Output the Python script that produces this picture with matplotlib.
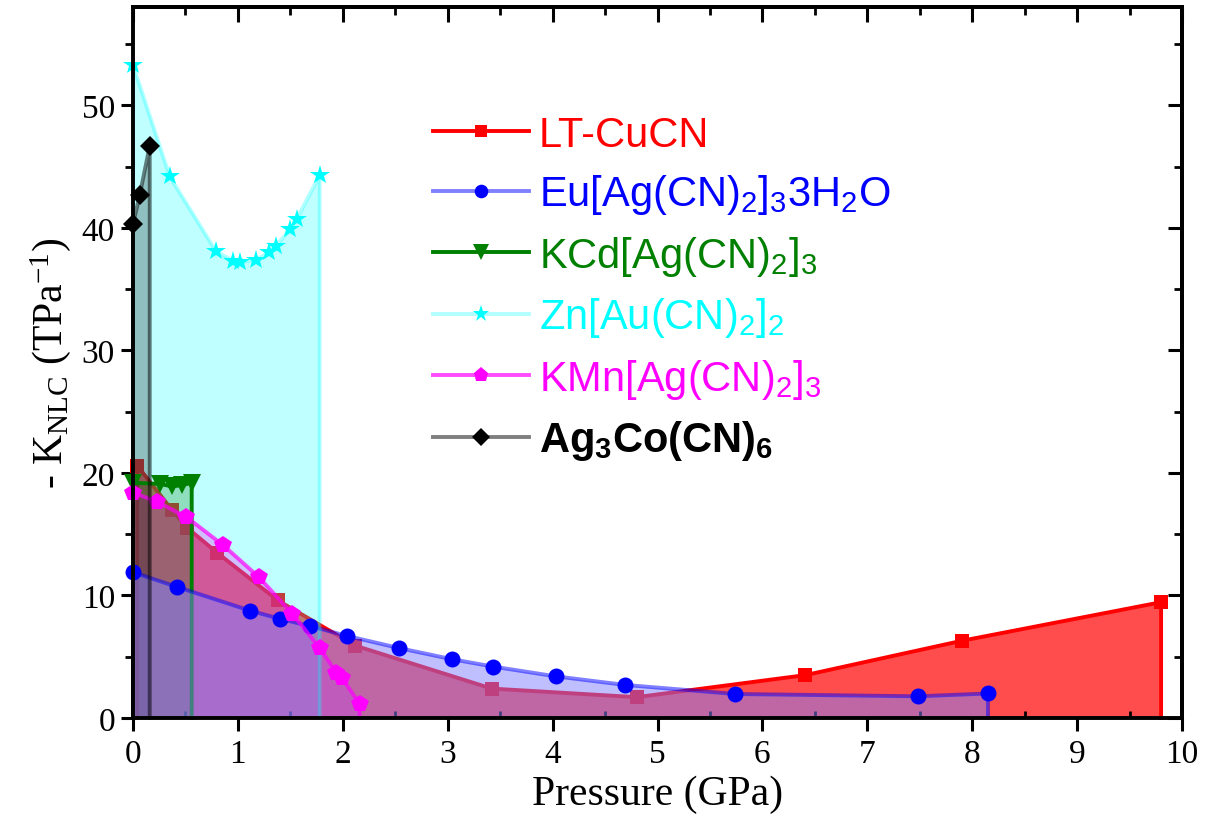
import matplotlib
matplotlib.use("Agg")
import matplotlib.pyplot as plt
from matplotlib.lines import Line2D
from matplotlib.ticker import MultipleLocator, NullFormatter

# Pressure (GPa) and -K_NLC (TPa^-1) for each compound
cucn_p = [0.04, 0.37, 0.52, 0.80, 1.38, 2.12, 3.42, 4.80, 6.41, 7.90, 9.80]
cucn_k = [20.6, 17.0, 15.5, 13.5, 9.6, 5.9, 2.4, 1.7, 3.5, 6.3, 9.45]

eu_p = [0.0, 0.42, 1.12, 1.40, 1.69, 2.04, 2.54, 3.04, 3.43, 4.03, 4.69, 5.74, 7.48, 8.15]
eu_k = [11.9, 10.7, 8.75, 8.1, 7.5, 6.7, 5.7, 4.8, 4.2, 3.4, 2.7, 1.96, 1.77, 2.0]

kcd_p = [0.0, 0.26, 0.37, 0.47, 0.56]
kcd_k = [19.2, 19.1, 18.9, 19.0, 19.2]

zn_p = [0.0, 0.35, 0.79, 0.955, 1.02, 1.17, 1.30, 1.36, 1.50, 1.56, 1.78]
zn_k = [53.3, 44.2, 38.1, 37.3, 37.2, 37.4, 38.0, 38.5, 39.9, 40.7, 44.3]

kmn_p = [0.0, 0.23, 0.51, 0.86, 1.20, 1.52, 1.78, 1.94, 1.99, 2.16]
kmn_k = [18.4, 17.65, 16.4, 14.1, 11.5, 8.5, 5.7, 3.7, 3.3, 1.15]

agco_p = [0.0, 0.065, 0.16]
agco_k = [40.3, 42.7, 46.7]

labels = [
    "LT-CuCN",
    r"Eu[Ag(CN)$_2$]$_3$3H$_2$O",
    r"KCd[Ag(CN)$_2$]$_3$",
    r"Zn[Au(CN)$_2$]$_2$",
    r"KMn[Ag(CN)$_2$]$_3$",
    r"Ag$_3$Co(CN)$_6$",
]

plt.rcParams["mathtext.default"] = "regular"

# (x, y, marker, size, marker colour, line colour, fill colour, fill alpha,
#  fill zorder, line zorder, text colour)
series = [
    (cucn_p, cucn_k, "s", 10, "#ff0000", "#ff0000", "#ff0000", 0.70, 1, 1.5, "#ff0000"),
    (eu_p, eu_k, "o", 11.5, "#0000ff", (0.0, 0.0, 1.0, 0.5), "#8080ff", 0.5, 5, 6, "#0000ff"),
    (kcd_p, kcd_k, "v", 13, "#008000", "#008000", "#008000", 0.25, 3.5, 4.5, "#008000"),
    (zn_p, zn_k, "*", 15, "#00ffff", (0.0, 1.0, 1.0, 0.3), "#00ffff", 0.25, 2, 7, "#00ffff"),
    (kmn_p, kmn_k, "p", 13, "#ff00ff", (1.0, 0.0, 1.0, 0.7), "#ff00ff", 0.25, 3, 8, "#ff00ff"),
    (agco_p, agco_k, "D", 10.5, "#000000", (0.0, 0.0, 0.0, 0.5), "#000000", 0.25, 4, 10, "#000000"),
]

fig = plt.figure(figsize=(12.13, 8.29), dpi=100)
ax = fig.add_axes([0.1096, 0.1327, 0.8649, 0.8573])

handles = []
for x, y, mk, ms, mc, lc, fc, fa, fz, lz, tc in series:
    ax.fill_between(x, y, 0, color=fc, alpha=fa, linewidth=0, zorder=fz)
    ax.plot([x[0]] + list(x) + [x[-1]], [0] + list(y) + [0], color=lc,
            linewidth=2.8, solid_joinstyle="round", zorder=lz, clip_on=False)
    ax.plot(x, y, linestyle="none", marker=mk, markersize=ms, color=mc,
            markeredgewidth=0, zorder=lz + 0.1, clip_on=False)
    handles.append(Line2D([], [], color=lc, linewidth=2.8, marker=mk,
                          markersize=ms * 0.85, markerfacecolor=mc,
                          markeredgewidth=0))

ax.set_xlim(0, 10)
ax.set_ylim(0, 58)

serif = "Liberation Serif"
ax.set_xlabel("Pressure (GPa)", family=serif, fontsize=30, labelpad=4)
ax.set_ylabel(r"- K$_{NLC}$ (TPa$^{-1}$)", family=serif, fontsize=30, labelpad=6)

ax.xaxis.set_major_locator(MultipleLocator(1))
ax.xaxis.set_minor_locator(MultipleLocator(0.5))
ax.yaxis.set_major_locator(MultipleLocator(10))
ax.yaxis.set_minor_locator(MultipleLocator(5))

ax.tick_params(axis="x", which="major", direction="out", length=9, width=2.2,
               labelsize=24, pad=6)
ax.tick_params(axis="x", which="minor", direction="in", length=5, width=2)
ax.tick_params(axis="y", which="major", direction="out", length=9, width=2.2,
               labelsize=24, pad=4)
ax.tick_params(axis="y", which="minor", direction="out", length=6, width=2)
for lab in ax.get_xticklabels() + ax.get_yticklabels():
    lab.set_family(serif)

for sp in ax.spines.values():
    sp.set_linewidth(2.8)
    sp.set_zorder(20)

top = ax.secondary_xaxis("top")
top.xaxis.set_major_locator(MultipleLocator(1))
top.xaxis.set_minor_locator(MultipleLocator(0.5))
top.xaxis.set_major_formatter(NullFormatter())
top.tick_params(which="major", direction="in", length=11, width=2.2)
top.tick_params(which="minor", direction="in", length=6, width=2)
top.spines["top"].set_linewidth(2.8)

right = ax.secondary_yaxis("right")
right.yaxis.set_major_locator(MultipleLocator(10))
right.yaxis.set_minor_locator(MultipleLocator(5))
right.yaxis.set_major_formatter(NullFormatter())
right.tick_params(which="major", direction="in", length=10, width=2.2)
right.tick_params(which="minor", direction="in", length=6, width=2)
right.spines["right"].set_linewidth(2.8)

leg = ax.legend(handles, labels, loc="upper left", bbox_to_anchor=(0.27, 0.872),
                frameon=False, handlelength=2.3, handletextpad=0.25,
                labelspacing=0.42, borderaxespad=0,
                prop={"family": "Liberation Sans", "size": 30})
for txt, s in zip(leg.get_texts(), series):
    txt.set_color(s[10])
leg.get_texts()[-1].set_fontweight("bold")
leg.set_zorder(30)

fig.savefig("out.png", dpi=100)
